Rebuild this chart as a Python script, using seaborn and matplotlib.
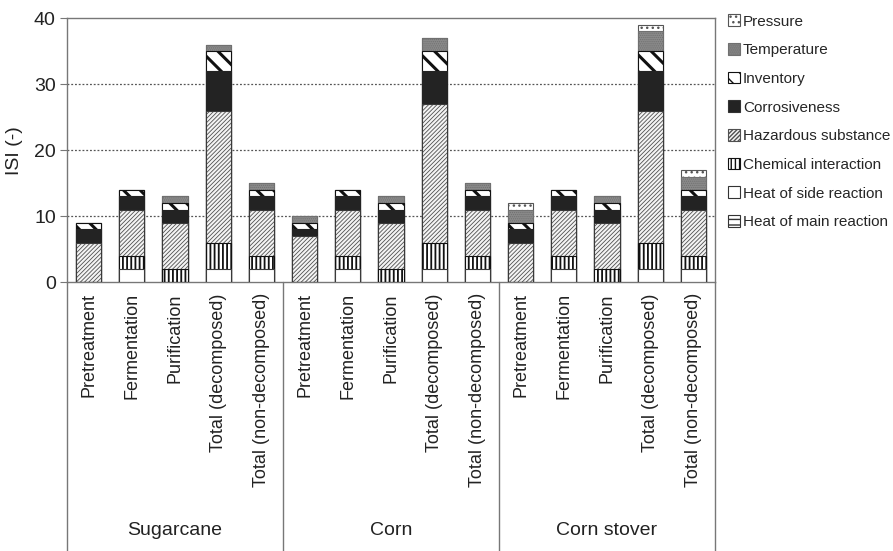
import numpy as np
import pandas as pd
import matplotlib
matplotlib.use("Agg")
import matplotlib.pyplot as plt
import seaborn as sns
from matplotlib.patches import Patch

feedstocks = ["Sugarcane", "Corn", "Corn stover"]
steps = ["Pretreatment", "Fermentation", "Purification",
         "Total (decomposed)", "Total (non-decomposed)"]

# order: bottom -> top of stack, 15 bars (feedstock x step)
heat_main = [0, 0, 0, 0, 0,  0, 0, 0, 0, 0,  0, 0, 0, 0, 0]
heat_side = [0, 2, 0, 2, 2,  0, 2, 0, 2, 2,  0, 2, 0, 2, 2]
chem_inter = [0, 2, 2, 4, 2,  0, 2, 2, 4, 2,  0, 2, 2, 4, 2]
hazardous = [6, 7, 7, 20, 7,  7, 7, 7, 21, 7,  6, 7, 7, 20, 7]
corrosive = [2, 2, 2, 6, 2,  1, 2, 2, 5, 2,  2, 2, 2, 6, 2]
inventory = [1, 1, 1, 3, 1,  1, 1, 1, 3, 1,  1, 1, 1, 3, 1]
temperature = [0, 0, 1, 1, 1,  1, 0, 1, 2, 1,  2, 0, 1, 3, 2]
pressure = [0, 0, 0, 0, 0,  0, 0, 0, 0, 0,  1, 0, 0, 1, 1]

layers = ["Heat of main reaction", "Heat of side reaction", "Chemical interaction",
          "Hazardous substance", "Corrosiveness", "Inventory", "Temperature", "Pressure"]
values = [heat_main, heat_side, chem_inter, hazardous, corrosive, inventory, temperature, pressure]

# face, edge/hatch colour, hatch, hatch linewidth
styles = {
    "Heat of main reaction": ("white", "#333333", "---", 1.0),
    "Heat of side reaction": ("white", "#444444", "", 1.0),
    "Chemical interaction": ("white", "#111111", "||||", 1.3),
    "Hazardous substance": ("#f4f4f4", "#505050", "////////", 0.6),
    "Corrosiveness": ("#232323", "#232323", "", 1.0),
    "Inventory": ("white", "#111111", "\\\\", 2.2),
    "Temperature": ("#8a8a8a", "#707070", "........", 0.6),
    "Pressure": ("white", "#555555", "...", 1.0),
}

keys = [f"{f}|{s}" for f in feedstocks for s in steps]
cum = np.cumsum(np.array(values), axis=0)

sns.set_theme(style="white")
plt.rcParams["font.family"] = ["Liberation Sans", "DejaVu Sans"]

fig = plt.figure(figsize=(8.93, 5.51), dpi=100)
ax = fig.add_axes([0.075, 0.488, 0.7257, 0.479])

# draw cumulative totals from top layer down so each lower layer covers the upper
for i in range(len(layers) - 1, -1, -1):
    name = layers[i]
    face, edge, hatch, hlw = styles[name]
    df = pd.DataFrame({"bar": keys, "isi": cum[i]})
    with plt.rc_context({"hatch.linewidth": hlw}):
        sns.barplot(data=df, x="bar", y="isi", order=keys, color=face, saturation=1,
                    edgecolor=edge, linewidth=0.8, hatch=hatch, width=0.58, ax=ax,
                    err_kws={"linewidth": 0})
    for p in ax.patches[-len(keys):]:
        p.set_edgecolor("#3a3a3a" if hatch == "" and face == "white" else
                        ("#3a3a3a" if name == "Hazardous substance" else edge))
        if hasattr(p, "set_hatch_linewidth"):
            p.set_hatch_linewidth(hlw)
        if hatch:
            p._hatch_color = matplotlib.colors.to_rgba(edge)
        p.set_zorder(3)

ax.set_ylim(0, 40)
ax.set_xlim(-0.5, 14.5)
ax.set_yticks([0, 10, 20, 30, 40])
ax.set_yticklabels(["0", "10", "20", "30", "40"], fontsize=14, color="#222222")
ax.tick_params(axis="y", left=True, length=5, width=0.8, color="#777777", pad=3)
ax.set_ylabel("ISI (-)", fontsize=14, color="#222222", labelpad=8)
ax.set_xlabel("")
for y in [10, 20, 30]:
    ax.axhline(y, color="#555555", linestyle=(0, (1.5, 1.5)), linewidth=0.9, zorder=1)
for s in ax.spines.values():
    s.set_color("#777777")
    s.set_linewidth(1.0)

ax.set_xticks(range(len(keys)))
ax.set_xticklabels(steps * 3, rotation=90, fontsize=13, color="#222222", va="top")
ax.tick_params(axis="x", bottom=False, length=0, pad=8)

# group separators and labels below the axis
trans = ax.get_xaxis_transform()
for xpos in [-0.5, 4.5, 9.5, 14.5]:
    ax.plot([xpos, xpos], [0, -1.03], transform=trans, color="#777777",
            linewidth=1.0, clip_on=False)
for j, f in enumerate(feedstocks):
    ax.text(j * 5 + 2, -0.94, f, transform=trans, ha="center", va="center",
            fontsize=14, color="#222222")

handles = []
for name in layers[::-1]:
    face, edge, hatch, hlw = styles[name]
    handles.append(Patch(facecolor=face, edgecolor=edge if hatch else "#333333",
                         hatch=hatch, linewidth=0.8, label=name))
fig.legend(handles=handles, loc="upper left", bbox_to_anchor=(0.808, 0.985),
           frameon=False, fontsize=11, handlelength=0.8, handleheight=0.8,
           handletextpad=0.2, labelspacing=0.95, borderaxespad=0)

fig.savefig("out.png", dpi=100)
